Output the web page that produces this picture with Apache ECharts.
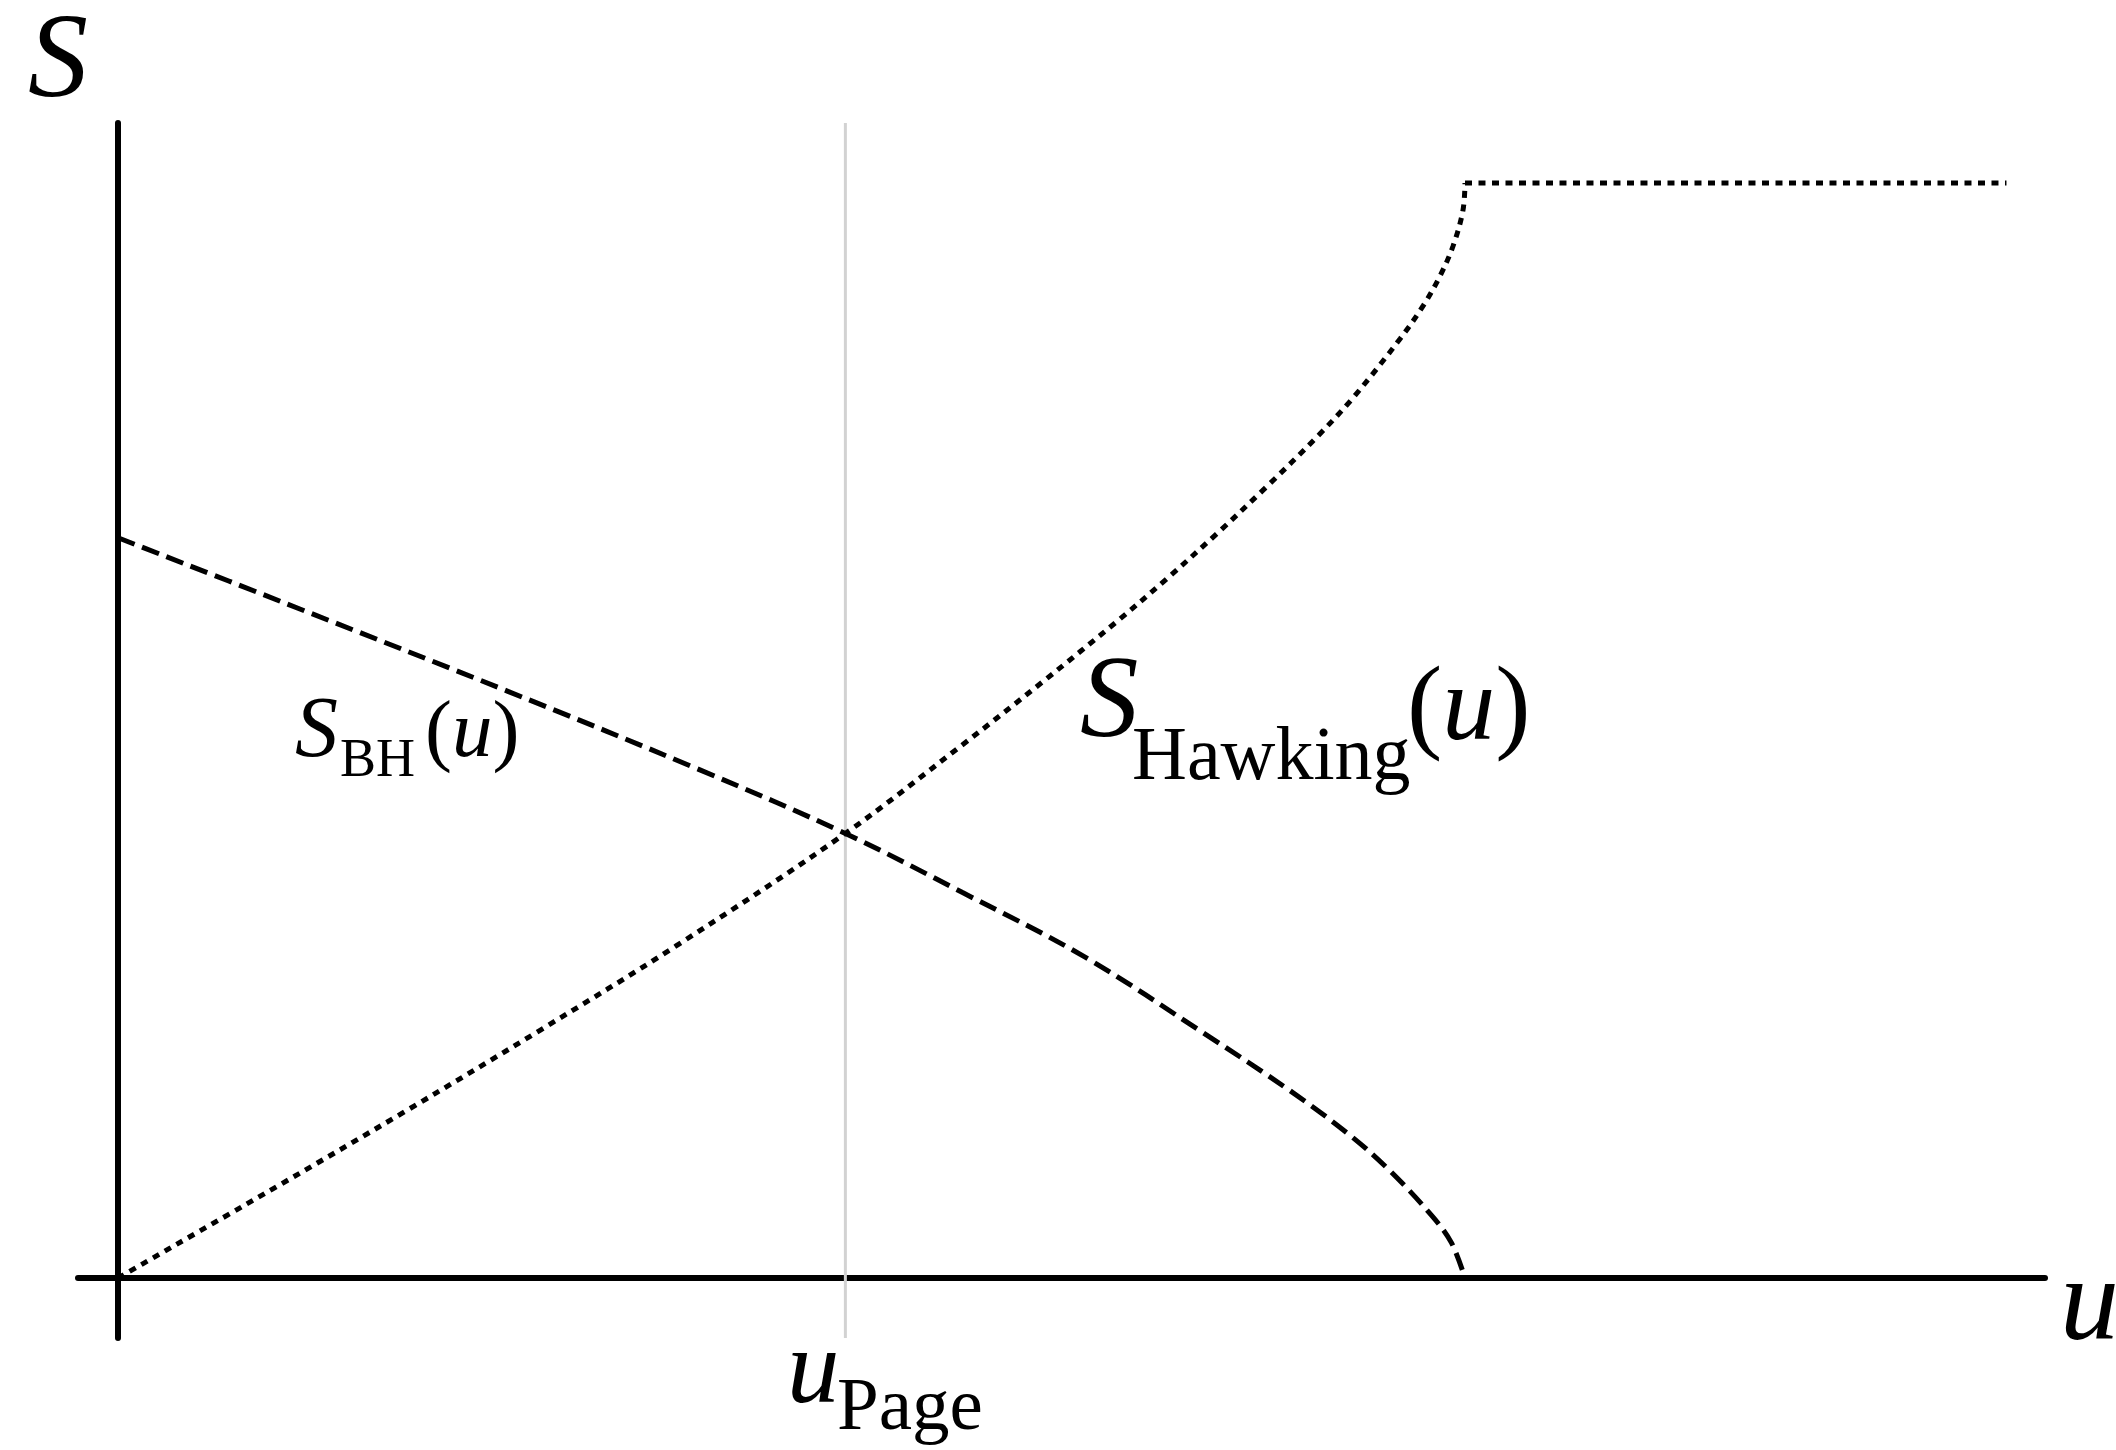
<!DOCTYPE html>
<html>
<head>
<meta charset="utf-8">
<script src="https://cdn.jsdelivr.net/npm/echarts@6/dist/echarts.min.js"></script>
<style>
  html, body { margin: 0; padding: 0; background: #fff; }
  #chart { width: 2116px; height: 1450px; }
</style>
</head>
<body>
<div id="chart"></div>
<script>
// Time u in units of the evaporation time, entropy S in units of the final radiation entropy.
const uPage = 0.54;

// Black-hole (Bekenstein–Hawking) entropy, dashed curve
const bhU = [0, 0.135, 0.289, 0.432, 0.540, 0.627, 0.718, 0.808, 0.869, 0.915, 0.945, 0.976, 0.990, 1.0];
const bhS = [0.676, 0.611, 0.536, 0.464, 0.406, 0.352, 0.293, 0.222, 0.172, 0.130, 0.097, 0.056, 0.032, 0.0];

// Entropy of the Hawking radiation, dotted curve
const hawU = [0, 0.113, 0.213, 0.313, 0.414, 0.540, 0.627, 0.687, 0.742, 0.779, 0.816, 0.853, 0.890, 0.917, 0.952, 0.969, 0.981, 0.991, 0.9985, 1.0];
const hawS = [0, 0.080, 0.152, 0.226, 0.303, 0.406, 0.487, 0.545, 0.600, 0.639, 0.680, 0.723, 0.768, 0.804, 0.858, 0.888, 0.914, 0.942, 0.975, 1.0];

// Plateau once the black hole has evaporated
const flatU = [1.0, 1.402];
const flatS = [1.0, 1.0];

// Axis ranges (axes cross at the origin and overshoot it slightly)
const uRange = [-0.0297, 1.4306];
const sRange = [-0.0548, 1.0548];

const zip = (a, b) => a.map((v, i) => [v, b[i]]);

const SERIF = '"Liberation Serif", "DejaVu Serif", serif';
const DOT = [7, 6.5];
const DASH = [18, 8];

const chart = echarts.init(document.getElementById('chart'), null, { renderer: 'canvas' });

// text pieces: left x, baseline y, font size
function txt(text, x, base, size, italic) {
  return {
    type: 'text', z: 10,
    style: {
      text: text, x: x, y: base - 0.3375 * size,
      font: (italic ? 'italic ' : '') + size + 'px ' + SERIF,
      fill: '#000', align: 'left', verticalAlign: 'middle'
    }
  };
}
function paren(x, base, size) {
  return {
    type: 'text', z: 10,
    style: {
      text: '{r|(}{i|u}{r|)}', x: x, y: base - 0.3375 * size,
      align: 'left', verticalAlign: 'middle', fill: '#000',
      rich: {
        r: { font: size + 'px ' + SERIF, fill: '#000' },
        i: { font: 'italic ' + size + 'px ' + SERIF, fill: '#000' }
      }
    }
  };
}

chart.setOption({
  animation: false,
  backgroundColor: '#fff',
  grid: { left: 78, right: 71, top: 123, bottom: 112, containLabel: false },
  xAxis: {
    type: 'value', min: uRange[0], max: uRange[1],
    axisLine: { show: true, onZero: true, lineStyle: { color: '#000', width: 6 } },
    axisTick: { show: false }, axisLabel: { show: false }, splitLine: { show: false }
  },
  yAxis: {
    type: 'value', min: sRange[0], max: sRange[1],
    axisLine: { show: true, onZero: true, lineStyle: { color: '#000', width: 6 } },
    axisTick: { show: false }, axisLabel: { show: false }, splitLine: { show: false }
  },
  series: [
    {
      name: 'Page time', type: 'line', z: 1, symbol: 'none', silent: true,
      data: [[uPage, sRange[0]], [uPage, sRange[1]]],
      lineStyle: { color: '#d2d2d2', width: 3 }
    },
    {
      name: 'S_BH', type: 'line', z: 3, symbol: 'none', smooth: 0.35,
      data: zip(bhU, bhS),
      lineStyle: { color: '#000', width: 5, type: DASH, cap: 'butt' }
    },
    {
      name: 'S_Hawking', type: 'line', z: 3, symbol: 'none', smooth: 0.35,
      data: zip(hawU, hawS),
      lineStyle: { color: '#000', width: 5, type: DOT, cap: 'butt' }
    },
    {
      name: 'S_Hawking plateau', type: 'line', z: 3, symbol: 'none',
      data: zip(flatU, flatS),
      lineStyle: { color: '#000', width: 5, type: DOT, cap: 'butt' }
    }
  ],
  graphic: [
    txt('S', 28, 105, 120, true),
    txt('u', 2060, 1348, 118, true),
    txt('u', 787, 1410, 105, true),
    txt('Page', 837, 1435, 75, false),
    txt('S', 295, 762, 86, true),
    txt('BH', 340, 780, 54, false),
    paren(425, 762, 81),
    txt('S', 1080, 745, 117, true),
    txt('Hawking', 1132, 785, 76, false),
    paren(1407, 747, 106)
  ]
});
</script>
</body>
</html>
